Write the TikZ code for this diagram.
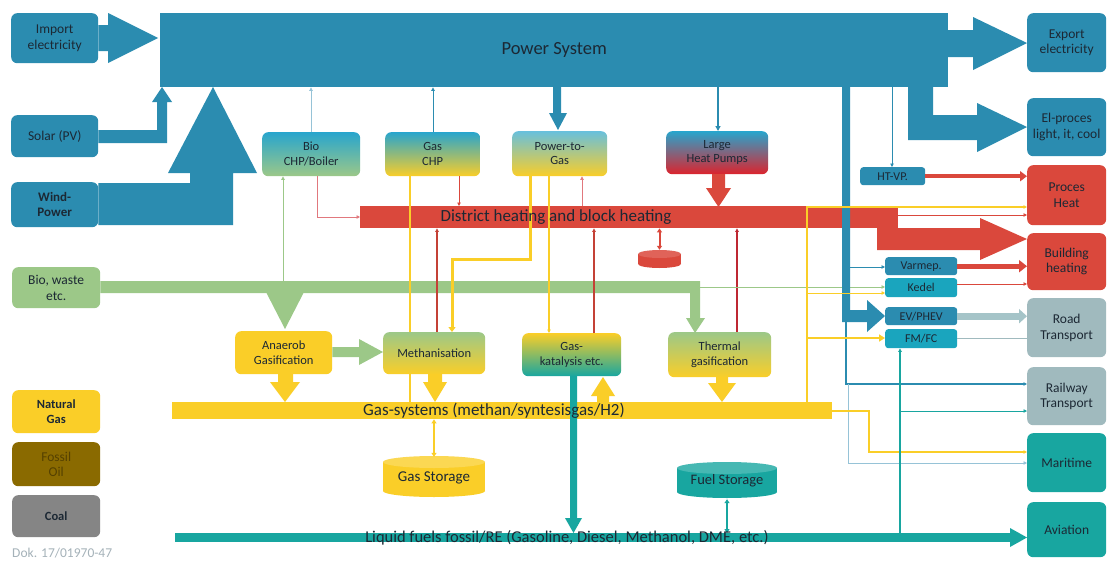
\documentclass[tikz,border=0pt]{standalone}
\usepackage{fontspec}
\setmainfont{Carlito}
\usetikzlibrary{arrows.meta,calc}
\definecolor{pblue}{RGB}{43,140,176}
\definecolor{lblue}{RGB}{40,165,205}
\definecolor{pteal}{RGB}{24,166,160}
\definecolor{kteal}{RGB}{26,165,190}
\definecolor{pred}{RGB}{218,72,60}
\definecolor{hred}{RGB}{220,35,45}
\definecolor{dred}{RGB}{190,40,50}
\definecolor{pink}{RGB}{225,120,125}
\definecolor{pyel}{RGB}{250,206,40}
\definecolor{pgreen}{RGB}{156,200,136}
\definecolor{pgray}{RGB}{160,186,190}
\definecolor{evgray}{RGB}{165,196,200}
\definecolor{oilc}{RGB}{138,106,0}
\definecolor{oilt}{RGB}{85,65,0}
\definecolor{coalc}{RGB}{133,133,133}
\definecolor{txt}{RGB}{28,40,52}
\definecolor{dok}{RGB}{165,178,185}
\definecolor{faint}{RGB}{150,195,215}
\begin{document}
\begin{tikzpicture}[x=1pt,y=-1pt,
  rb/.style={rounded corners=6pt, inner sep=0pt, align=center, text=txt, anchor=north west, font=\fontsize{13.5}{15.5}\selectfont},
  mb/.style={rb, font=\fontsize{12.5}{14.5}\selectfont},
  sb/.style={rounded corners=3pt, inner sep=0pt, align=center, text=txt, anchor=north west, font=\fontsize{12}{13}\selectfont},
  bar/.style={inner sep=0pt, anchor=north west},
  fl/.style={-{Triangle[length=5pt,width=5pt]}},
  fs/.style={-{Triangle[length=3.5pt,width=3.5pt]}},
  fb/.style={{Triangle[length=4pt,width=5pt]}-{Triangle[length=4pt,width=5pt]}},
]
\useasboundingbox (0,0) rectangle (1109,562);
\fill[white] (0,0) rectangle (1109,562);

% ---------- left column ----------
\node[rb, fill=pblue, minimum width=87pt, minimum height=50pt] (imp) at (11,13) {Import\\electricity};
\node[rb, fill=pblue, minimum width=87pt, minimum height=42pt] (sol) at (11,115) {Solar (PV)};
\node[rb, fill=pblue, minimum width=87pt, minimum height=45pt, font=\fontsize{13}{15}\selectfont\bfseries] (wind) at (11,182) {Wind-\\Power};
\node[rb, fill=pgreen, minimum width=88pt, minimum height=41pt] (bio) at (12,267) {Bio, waste\\etc.};
\node[rb, fill=pyel, minimum width=88pt, minimum height=43pt, font=\fontsize{12.5}{14.5}\selectfont\bfseries] (ng) at (12,390) {Natural\\Gas};
\node[rb, fill=oilc, text=oilt, minimum width=88pt, minimum height=44pt] (oil) at (12,442) {Fossil\\Oil};
\node[rb, fill=coalc, minimum width=88pt, minimum height=42pt, font=\fontsize{12.5}{14.5}\selectfont\bfseries] (coal) at (12,495) {Coal};
\node[anchor=west, inner sep=0pt, text=dok, font=\fontsize{13.5}{15}\selectfont] (dokt) at (12,553) {Dok. 17/01970-47};

% ---------- power system ----------
\node[bar, fill=pblue, minimum width=788pt, minimum height=74pt, text=txt, font=\fontsize{18.5}{20}\selectfont] (power) at (160,13) {Power System};

% fat arrows into / out of power system
\fill[pblue] (imp.east |- 0,25) -- (108,25) -- (108,13) -- (158,38) -- (108,63) -- (108,51) -- (imp.east |- 0,51) -- cycle;
\fill[pblue] (sol.east |- 0,130) -- (157,130) -- (157,102) -- (152,102) -- (162,87) -- (172,102) -- (167,102) -- (167,143) -- (sol.east |- 0,143) -- cycle;
\fill[pblue] (wind.east |- 0,183) -- (190,183) -- (190,173) -- (168,173) -- (213,87) -- (257,173) -- (233,173) -- (233,225) -- (wind.east |- 0,225) -- cycle;

% ---------- right column ----------
\node[rb, fill=pblue, minimum width=79pt, minimum height=59pt] (exp) at (1027,13) {Export\\electricity};
\node[rb, fill=pblue, minimum width=79pt, minimum height=58pt] (elp) at (1027,98) {El-proces\\light, it, cool};
\node[rb, fill=pred, minimum width=79pt, minimum height=60pt] (prh) at (1027,165) {Proces\\Heat};
\node[rb, fill=pred, minimum width=79pt, minimum height=57pt] (bh) at (1027,233) {Building\\heating};
\node[rb, fill=pgray, minimum width=79pt, minimum height=59pt] (road) at (1027,298) {Road\\Transport};
\node[rb, fill=pgray, minimum width=79pt, minimum height=58pt] (rail) at (1027,367) {Railway\\Transport};
\node[rb, fill=pteal, minimum width=79pt, minimum height=59pt] (mar) at (1027,433) {Maritime};
\node[rb, fill=pteal, minimum width=79pt, minimum height=55pt] (avi) at (1027,502) {Aviation};

\fill[pblue] (946,30) -- (973,30) -- (973,17) -- (exp.west |- 0,43) -- (973,70) -- (973,57) -- (946,57) -- cycle;
\fill[pblue] (908,87) -- (933,87) -- (933,115) -- (977,115) -- (977,103) -- (elp.west |- 0,127) -- (977,152) -- (977,140) -- (908,140) -- cycle;

% small boxes
\node[sb, fill=pblue, minimum width=65pt, minimum height=18pt] (htvp) at (860,167) {HT-VP.};
\node[sb, fill=pblue, minimum width=72pt, minimum height=18pt] (varm) at (885,257) {Varmep.};
\node[sb, fill=kteal, minimum width=72pt, minimum height=19pt] (kedel) at (885,278) {Kedel};
\node[sb, fill=pblue, minimum width=72pt, minimum height=18pt] (ev) at (885,307) {EV/PHEV};
\node[sb, fill=kteal, minimum width=72pt, minimum height=19pt] (fm) at (885,329) {FM/FC};

% ---------- conversion boxes ----------
\node[mb, top color=lblue, bottom color=pgreen, minimum width=98pt, minimum height=44pt] (bchp) at (262,132) {Bio\\CHP/Boiler};
\node[mb, top color=lblue, bottom color=pyel, minimum width=95pt, minimum height=44pt] (gchp) at (385,132) {Gas\\CHP};
\node[mb, top color=lblue!70!white, bottom color=pyel, minimum width=95pt, minimum height=45pt] (p2g) at (512,131) {Power-to-\\Gas};
\node[mb, top color=lblue, bottom color=hred, minimum width=102pt, minimum height=43pt] (lhp) at (666,131) {Large\\Heat Pumps};

% district heating bar
\node[bar, fill=pred, minimum width=538pt, minimum height=22pt] (dh) at (360,206) {};
\fill[pred] (877,228) -- (980,228) -- (980,218) -- (bh.west |- 0,239) -- (980,260) -- (980,250) -- (877,250) -- cycle;

% district storage
\fill[pred] (638,254) rectangle (681,264);
\fill[pred] (659.5,264) ellipse [x radius=21.5pt, y radius=4pt];
\fill[pred!85!white] (659.5,254) ellipse [x radius=21.5pt, y radius=4pt];
\node[inner sep=0pt, minimum width=43pt, minimum height=18pt] (dhs) at (659.5,259) {};

% ---------- bio ----------
\fill[pgreen] (bio.east |- 0,281) -- (700,281) -- (700,318) -- (705,318) -- (695,333) -- (686,318) -- (690,318) -- (690,293) -- (bio.east |- 0,293) -- cycle;
\fill[pgreen] (266,292) -- (304,292) -- (285,329) -- cycle;

% gas bar
\node[bar, fill=pyel, minimum width=660pt, minimum height=17pt] (gas) at (172,402) {};

% lines passing behind the lower boxes
\draw[pyel, line width=2.5pt] (410,0 |- gchp.south) -- (410,0 |- gas.north);
\draw[pred!90!black, line width=1.5pt, fs] (437,332) -- (437,0 |- dh.south);
\draw[pred!90!black, line width=1.5pt, fs] (594,333) -- (594,0 |- dh.south);
\draw[dred, line width=1.5pt, fs] (737,332) -- (737,0 |- dh.south);

% ---------- lower conversion boxes ----------
\node[mb, fill=pyel, minimum width=97pt, minimum height=43pt] (ana) at (235,331) {Anaerob\\Gasification};
\node[mb, top color=pgreen, bottom color=pyel, minimum width=102pt, minimum height=42pt] (meth) at (383,332) {Methanisation};
\node[mb, top color=pyel, bottom color=pteal, minimum width=99pt, minimum height=43pt] (gcat) at (522,333) {Gas-\\katalysis etc.};
\node[mb, top color=pgreen, bottom color=pyel, minimum width=103pt, minimum height=45pt] (therm) at (668,332) {Thermal\\gasification};

\fill[pgreen] (ana.east |- 0,347) -- (359,347) -- (359,339) -- (meth.west |- 0,352) -- (359,365) -- (359,357) -- (ana.east |- 0,357) -- cycle;

\fill[pyel] (278,374) -- (293,374) -- (293,382) -- (300,382) -- (285,402) -- (270,382) -- (278,382) -- cycle;
\fill[pyel] (428,374) -- (442,374) -- (442,382) -- (447,382) -- (435,402) -- (423,382) -- (428,382) -- cycle;
\fill[pyel] (597,402) -- (609,402) -- (609,396) -- (615,396) -- (603,377) -- (591,396) -- (597,396) -- cycle;
\fill[pyel] (716,377) -- (728,377) -- (728,383) -- (736,383) -- (722,402) -- (708,383) -- (716,383) -- cycle;

% gas storage
\fill[pyel] (383,462) rectangle (485,491);
\fill[pyel] (434,491) ellipse [x radius=51pt, y radius=6pt];
\fill[pyel!80!white] (434,462) ellipse [x radius=51pt, y radius=6pt];
\node[inner sep=0pt, minimum width=102pt, minimum height=41pt, text=txt, font=\fontsize{15}{17}\selectfont] (gst) at (434,477.5) {Gas Storage};

% fuel storage
\fill[pteal] (677,468) rectangle (777,492);
\fill[pteal] (727,492) ellipse [x radius=50pt, y radius=6pt];
\fill[pteal!80!white] (727,468) ellipse [x radius=50pt, y radius=6pt];
\node[inner sep=0pt, minimum width=100pt, minimum height=36pt, text=txt, font=\fontsize{14.5}{16}\selectfont] (fst) at (727,481) {Fuel Storage};

% liquid fuels bar
\node[bar, fill=pteal, minimum width=835pt, minimum height=9pt] (liq) at (175,533) {};
\fill[pteal] (1010,528) -- (avi.west |- 0,537.5) -- (1010,547) -- cycle;

% gas-katalysis to liquid
\fill[pteal] (570,376) -- (577,376) -- (577,518) -- (582,518) -- (573.5,533) -- (565,518) -- (570,518) -- cycle;

% ---------- thin connectors ----------
% power system links
\draw[faint, line width=0.7pt, fs] (311,0 |- bchp.north) -- (311,0 |- power.south);
\draw[pblue, line width=0.9pt, fs] (433,0 |- gchp.north) -- (433,0 |- power.south);
\fill[pblue] (553,87) -- (561,87) -- (561,113) -- (567,113) -- (558,130) -- (549,113) -- (553,113) -- cycle;
\draw[pblue, line width=1.3pt, fl] (718,0 |- power.south) -- (718,0 |- lhp.north);
\draw[pblue, line width=1pt, fs] (892,0 |- power.south) -- (892,0 |- htvp.north);

% heat links
\draw[pink, line width=0.8pt, fs] (317,0 |- bchp.south) -- (317,217) -- (dh.west |- 0,217);
\draw[pred, line width=1pt, fs] (459,0 |- gchp.south) -- (459,0 |- dh.north);
\draw[pink, line width=0.6pt, fs] (582,0 |- dh.north) -- (582,0 |- p2g.south);
\fill[pred] (712,174) -- (725,174) -- (725,188) -- (731,188) -- (718.5,207) -- (706,188) -- (712,188) -- cycle;
\draw[pred, line width=2pt, fb] (dhs.north |- dh.south) -- (dhs.north);

% gas links
\draw[pyel, line width=3pt, -{Triangle[length=5pt,width=7pt]}] (530,0 |- p2g.south) -- (530,259) -- (452,259) -- (452,0 |- meth.north);
\draw[pyel, line width=1.5pt, fs] (549,0 |- p2g.south) -- (549,0 |- gcat.north);
\draw[pyel, line width=2pt, fb] (gst.north |- gas.south) -- (gst.north);
\draw[pteal, line width=2pt, fb] (fst.south) -- (fst.south |- liq.north);

% bio thin links
\draw[pgreen, line width=1pt, fs] (283,281) -- (283,0 |- bchp.south);
\draw[pgreen, line width=1pt, fs] (700,287) -- (kedel.west |- 0,287);

% right side
\fill[pblue] (842,87) -- (850,87) -- (850,310) -- (867,310) -- (867,300) -- (ev.west |- 0,316) -- (867,332) -- (867,322) -- (842,322) -- cycle;
\draw[pblue, line width=1pt, fs] (850,267) -- (varm.west |- 0,267);
\draw[pblue, line width=1.2pt, fs] (846,322) -- (846,384) -- (rail.west |- 0,384);
\draw[faint, line width=0.8pt, fs] (848,384) -- (848,463) -- (mar.west |- 0,463);
\draw[pred, line width=4pt, -{Triangle[length=7pt,width=10pt]}] (htvp.east) -- (prh.west |- htvp.east);
\draw[pred, line width=5pt, -{Triangle[length=8pt,width=12pt]}] (varm.east) -- (bh.west |- varm.east);
\draw[pred, line width=1pt, fs] (kedel.east |- 0,284) -- (bh.west |- 0,284);
\draw[evgray, line width=7pt, -{Triangle[length=8pt,width=14pt]}] (ev.east) -- (road.west |- ev.east);
\draw[pgray, line width=1.5pt] (fm.east) -- (road.west |- fm.east);
\draw[pred, line width=1pt, fs] (dh.east |- 0,215) -- (prh.west |- 0,215);

% yellow right
\draw[pyel, line width=2pt, fs] (807,0 |- gas.north) -- (807,207) -- (prh.west |- 0,207);
\draw[pyel, line width=2.5pt, -{Triangle[length=6pt,width=7pt]}] (807,338) -- (fm.west |- 0,338);
\draw[pyel, line width=0.8pt, fs] (807,293) -- (kedel.west |- 0,293);
\draw[pyel, line width=1.2pt, fs] (gas.east |- 0,411) -- (869,411) -- (869,452) -- (mar.west |- 0,452);

% teal right
\draw[pteal, line width=1.2pt, fs] (900,0 |- liq.north) -- (900,0 |- fm.south);
\draw[pteal, line width=0.8pt, fs] (900,411) -- (rail.west |- 0,411);

% ---------- bar texts ----------
\node[text=txt, inner sep=0pt, font=\fontsize{17}{19}\selectfont] (dht) at (556,217) {District heating and block heating};
\node[text=txt, inner sep=0pt, font=\fontsize{17}{19}\selectfont] (gast) at (494,411) {Gas-systems (methan/syntesisgas/H2)};
\node[text=txt, inner sep=0pt, font=\fontsize{16.5}{18}\selectfont] (liqt) at (567,538) {Liquid fuels fossil/RE (Gasoline, Diesel, Methanol, DME, etc.)};
\end{tikzpicture}
\end{document}
